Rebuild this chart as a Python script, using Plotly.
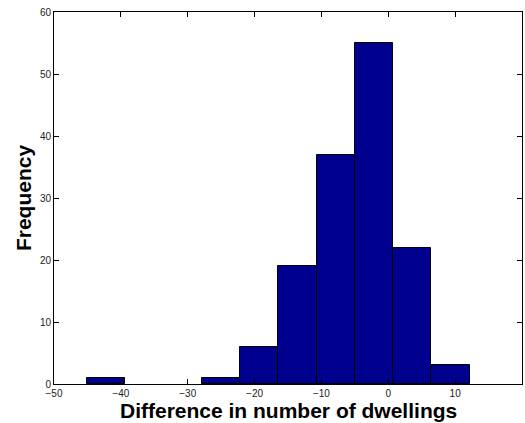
import plotly.graph_objects as go

# Histogram data (10 equal-width bins)
bin_centers = [-42.19, -36.47, -30.75, -25.05, -19.33, -13.58, -7.85, -2.14, 3.59, 9.31]
counts = [1, 0, 0, 1, 6, 19, 37, 55, 22, 3]
bin_width = 5.72

x_ticks = [-50, -40, -30, -20, -10, 0, 10, 20]
y_ticks = [0, 10, 20, 30, 40, 50, 60]

x_title = "Difference in number of dwellings"
y_title = "Frequency"

fig = go.Figure(
    go.Bar(
        x=bin_centers,
        y=counts,
        width=[bin_width] * len(bin_centers),
        marker=dict(color="#00008F",
                    line=dict(color="black", width=[1 if c > 0 else 0 for c in counts])),
    )
)

font_family = "Liberation Sans, Arial, Helvetica, sans-serif"
axis_common = dict(
    showgrid=False,
    zeroline=False,
    showline=True,
    linecolor="black",
    linewidth=1,
    mirror="ticks",
    ticks="inside",
    ticklen=5,
    tickcolor="black",
    automargin=False,
    tickfont=dict(family=font_family, size=10, color="#222"),
)

fig.update_layout(
    width=525,
    height=423,
    margin=dict(l=54, r=3, t=12, b=39),
    plot_bgcolor="white",
    paper_bgcolor="white",
    showlegend=False,
    bargap=0,
    xaxis=dict(range=[-50, 20], tickvals=x_ticks, **axis_common),
    yaxis=dict(range=[0, 60], tickvals=y_ticks, **axis_common),
    annotations=[
        dict(text=f"<b>{x_title}</b>", xref="paper", yref="paper",
             x=0.5, y=-0.07, xanchor="center", yanchor="middle", showarrow=False,
             font=dict(family=font_family, size=21, color="black")),
        dict(text=f"<b>{y_title}</b>", xref="paper", yref="paper",
             x=-0.066, y=0.5, xanchor="center", yanchor="middle", showarrow=False,
             textangle=-90,
             font=dict(family=font_family, size=21, color="black")),
    ],
)

fig.write_html(
    "out.html",
    config={"displayModeBar": False},
    post_script="document.body.style.margin='0';document.body.style.overflow='hidden';",
)
